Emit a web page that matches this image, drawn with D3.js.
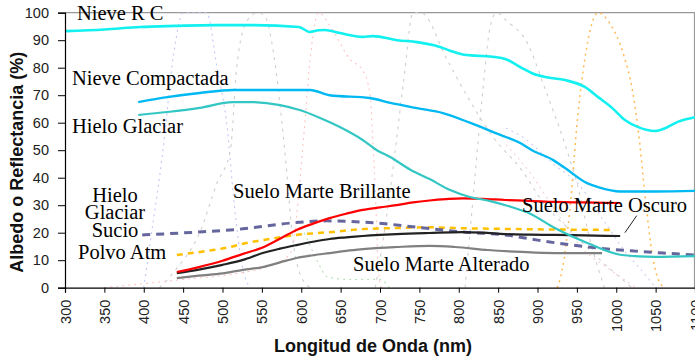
<!DOCTYPE html>
<html>
<head>
<meta charset="utf-8">
<script src="https://cdn.jsdelivr.net/npm/d3@7"></script>
<style>
  html, body { margin: 0; padding: 0; background: #fff; }
  svg { display: block; }
</style>
</head>
<body>
<script>
// ---------------- DATA ----------------
const xTicks = [300,350,400,450,500,550,600,650,700,750,800,850,900,950,1000,1050,1100];
const yTicks = [0,10,20,30,40,50,60,70,80,90,100];

// Main reflectance spectra (wavelength nm, reflectance %)
const nieveRC_nm  = [300,350,395,440,490,540,597,611,622,630,649,678,691,722,747,772,789,805,821,846,859,880,893,910,935,960,977,995,1011,1028,1049,1062,1078,1100];
const nieveRC_val = [93.3,93.9,94.8,95.2,95.5,95.5,94.8,93.0,93.6,93.7,92.6,91.2,91.5,90.0,89.3,87.9,86.2,84.8,84.4,83.9,83.2,79.9,78.0,76.6,75.5,73.0,69.3,65.3,61.0,58.4,57.0,58.0,60.3,62.0];

const nieveComp_nm  = [393,430,471,513,560,611,636,687,713,747,780,814,846,878,893,920,935,963,977,1005,1050,1100];
const nieveComp_val = [67.5,69.3,70.8,71.9,71.9,71.9,70.0,69.0,67.2,65.3,63.5,60.0,56.3,52.6,50.0,46.4,43.5,38.0,36.6,35.0,35.0,35.2];

const hielo_nm  = [393,430,471,513,535,573,598,624,649,678,696,713,738,763,789,814,840,865,890,922,964,1007,1049,1100];
const hielo_val = [62.8,63.9,65.4,67.5,67.5,66.4,64.6,61.7,58.4,53.7,50.0,47.5,43.0,39.5,35.5,33.0,31.5,29.5,27.0,21.7,16.2,11.9,11.2,11.5];

const brillante_nm  = [442,470,500,526,551,573,594,615,636,657,678,700,721,742,763,784,805,830,859,890,922,960,1005];
const brillante_val = [5.7,7.5,9.8,12.3,14.6,17.8,21.0,23.3,25.3,26.9,28.3,29.2,30.0,31.0,31.7,32.2,32.5,32.3,31.9,31.6,31.2,31.0,30.8];

const oscuro_nm  = [442,470,500,526,551,573,594,615,636,657,678,700,721,763,805,830,859,890,922,960,1005];
const oscuro_val = [5.3,6.6,8.3,10.1,12.6,14.2,15.5,16.7,17.7,18.3,18.8,19.2,19.5,19.9,20.2,20.0,19.5,19.3,19.2,19.0,18.8];

const alterado_nm  = [442,470,500,526,551,573,594,615,636,657,678,700,721,763,795,837,880,922,982];
const alterado_val = [3.5,4.4,5.2,6.5,7.5,9.2,10.8,11.8,12.6,13.4,14.0,14.5,14.8,15.2,14.8,13.7,13.0,12.6,12.6];

const polvo_nm  = [442,488,510,526,551,594,636,678,721,763,795,880,992];
const polvo_val = [11.9,13.7,14.8,16.0,17.3,19.2,20.2,21.3,21.7,22.0,21.7,21.3,21.0];

const sucio_nm  = [398,467,526,586,633,696,747,808,859,900,944,977,1024,1060,1100];
const sucio_val = [19.2,20.2,21.4,23.5,24.3,23.5,22.0,20.2,19.2,17.3,15.5,14.4,13.3,12.6,11.9];

// Faint filter transmission curves (nm, %)
const f1_nm = [400,410,424,438,450,465,480,493,506,515,525,535];
const f1_val = [0,20,49,85,100,100,100,80,58,30,8,0];
const f2_nm = [420,442,471,493,510,518,531,545,555,565,579,590,600,612];
const f2_val = [0,7,20,38,50,80,97,100,98,85,50,16,4,0];
const f3_nm = [350,450,515,560,585,590,598,604,612,622,639,662,678,687,691,695,698,702];
const f3_val = [0,3,5,8,12,16,38,58,85,100,94,83,79,71,53,28,6,0];
const f4_nm = [598,607,620,633,660,700,712];
const f4_val = [24,18,10,4,3,3,0];
const f5_nm = [694,700,715,730,742,752,785,814,843,882,907,941,980,1020];
const f5_val = [0,10,40,75,100,100,83,68,55,42,31,21,10,0];
const f6_nm = [808,818,830,840,848,861,887,910,935,950,967,985];
const f6_val = [0,32,70,95,100,97,89,72,52,38,17,0];
const f7_nm = [860,880,920,954,985,1009,1039,1050];
const f7_val = [58,55,45,37,24,14,4,0];
const f8_nm = [860,890,925,963,985,1005,1025];
const f8_val = [52,42,27,12.5,8,4,0];
const f9_nm = [925,931,941,951,960,969,977,992,1009,1021,1030,1036,1047,1055,1062];
const f9_val = [0,6,28,62,83,96,100,96,85,71,52,35,10,2,0];

// ---------------- CHART ----------------
const W = 695, H = 360;
const M = {left: 65, right: 0, top: 12.7, bottom: 72.3};

const svg = d3.select("body").append("svg")
  .attr("width", W).attr("height", H)
  .style("background", "#fff");

const x = d3.scaleLinear().domain([300, 1100]).range([M.left, W - M.right]);
const y = d3.scaleLinear().domain([0, 100]).range([H - M.bottom, M.top]);

const zip = (a, b) => a.map((d, i) => [d, b[i]]);
const line = d3.line().x(d => x(d[0])).y(d => y(d[1])).curve(d3.curveMonotoneX);

// Plot border (top / right grey)
svg.append("path")
  .attr("d", `M${x(300)},${y(100)}H${x(1100) - 0.5}V${y(0)}`)
  .attr("fill", "none").attr("stroke", "#999").attr("stroke-width", 1.2);

// Filter curves (faint, dotted)
const filters = [
  [f1_nm, f1_val, "#c3c5f5", "2,4", 1.1],
  [f2_nm, f2_val, "#cfcfcf", "3,5", 1.1],
  [f3_nm, f3_val, "#ffc4c4", "2,4", 1.1],
  [f4_nm, f4_val, "#b9dfb9", "2,4", 1.1],
  [f5_nm, f5_val, "#cfcfcf", "3,5", 1.1],
  [f6_nm, f6_val, "#cfcfcf", "3,5", 1.1],
  [f7_nm, f7_val, "#ccceF3", "2,4", 1.1],
  [f8_nm, f8_val, "#f3d2d2", "2,4", 1.1],
  [f9_nm, f9_val, "#ffbb55", "2,4", 1.5]
];
filters.forEach(([nm, v, c, dash, w]) => {
  svg.append("path")
    .attr("d", line(zip(nm, v)))
    .attr("fill", "none").attr("stroke", c)
    .attr("stroke-width", w)
    .attr("stroke-dasharray", dash);
});

// Main series
const series = [
  [alterado_nm, alterado_val, "#808080", 2.2, null],
  [polvo_nm, polvo_val, "#ffc000", 2.5, "6,5"],
  [sucio_nm, sucio_val, "#66669e", 3, "8,6"],
  [oscuro_nm, oscuro_val, "#222222", 2.2, null],
  [brillante_nm, brillante_val, "#ff0000", 2.2, null],
  [hielo_nm, hielo_val, "#33c6c3", 2.2, null],
  [nieveComp_nm, nieveComp_val, "#00b8f2", 2.4, null],
  [nieveRC_nm, nieveRC_val, "#12f0f0", 2.6, null]
];
series.forEach(([nm, v, c, w, dash]) => {
  svg.append("path")
    .attr("d", line(zip(nm, v)))
    .attr("fill", "none").attr("stroke", c)
    .attr("stroke-width", w)
    .attr("stroke-dasharray", dash);
});

// Leader line for "Suelo Marte Oscuro"
svg.append("line")
  .attr("x1", x(1026)).attr("y1", y(26.2))
  .attr("x2", x(1011)).attr("y2", y(20))
  .attr("stroke", "#222").attr("stroke-width", 1);

// Axes
const yAxis = svg.append("g")
  .attr("transform", `translate(${x(300)},0)`)
  .call(d3.axisLeft(y).tickValues(yTicks).tickSize(7).tickPadding(9).tickFormat(d3.format("d")));
yAxis.select(".domain").attr("stroke", "#000").attr("stroke-width", 1.2);
yAxis.selectAll(".tick line").attr("stroke", "#000");
yAxis.selectAll("text")
  .attr("font-family", "Liberation Sans, Arial, sans-serif")
  .attr("font-size", 14.5).attr("fill", "#222");

const xAxis = svg.append("g")
  .attr("transform", `translate(0,${y(0)})`)
  .call(d3.axisBottom(x).tickValues(xTicks).tickSize(5).tickFormat(d3.format("d")));
xAxis.select(".domain").attr("stroke", "#000").attr("stroke-width", 1.2);
xAxis.selectAll(".tick line").attr("stroke", "#000");
xAxis.selectAll("text")
  .attr("font-family", "Liberation Sans, Arial, sans-serif")
  .attr("font-size", 14.5).attr("fill", "#222")
  .attr("transform", "rotate(-90)")
  .attr("text-anchor", "end")
  .attr("x", -12).attr("y", 0).attr("dy", "0.35em");

// Axis titles
svg.append("text")
  .attr("transform", `translate(17,${(y(100) + y(0)) / 2 + 12}) rotate(-90)`)
  .attr("text-anchor", "middle")
  .attr("dy", "0.35em")
  .attr("font-family", "Liberation Sans, Arial, sans-serif")
  .attr("font-weight", "bold").attr("font-size", 18).attr("fill", "#111")
  .text("Albedo o Reflectancia (%)");

svg.append("text")
  .attr("x", 373).attr("y", 352)
  .attr("text-anchor", "middle")
  .attr("font-family", "Liberation Sans, Arial, sans-serif")
  .attr("font-weight", "bold").attr("font-size", 18).attr("fill", "#111")
  .text("Longitud de Onda (nm)");

// Series labels (serif)
const lab = (t, px, py, anchor) => svg.append("text")
  .attr("x", px).attr("y", py)
  .attr("text-anchor", anchor || "start")
  .attr("font-family", "Liberation Serif, 'Times New Roman', serif")
  .attr("font-size", 20.5).attr("fill", "#000")
  .text(t);

lab("Nieve R C", 77, 20);
lab("Nieve Compactada", 72, 85);
lab("Hielo Glaciar", 72, 133);
lab("Hielo", 115, 202, "middle");
lab("Glaciar", 115, 219, "middle");
lab("Sucio", 115, 237, "middle");
lab("Polvo Atm", 78, 259);
lab("Suelo Marte Brillante", 233, 198);
lab("Suelo Marte Alterado", 353, 271);
lab("Suelo Marte Oscuro", 522, 212);
</script>
</body>
</html>
